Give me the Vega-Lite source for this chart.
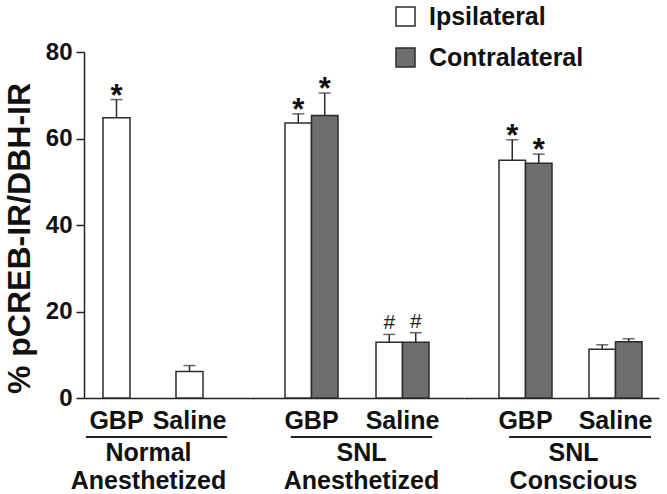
{
  "$schema": "https://vega.github.io/schema/vega-lite/v6.json",
  "padding": {"left": 3, "top": 4, "right": 4, "bottom": 4},
  "background": "white",
  "data": {
    "values": [
      {"group": "Normal Anesthetized", "treatment": "GBP", "side": "Ipsilateral", "value": 64.8, "upper": 69.0, "sig": "*"},
      {"group": "Normal Anesthetized", "treatment": "Saline", "side": "Ipsilateral", "value": 6.1, "upper": 7.5, "sig": ""},
      {"group": "SNL Anesthetized", "treatment": "GBP", "side": "Ipsilateral", "value": 63.6, "upper": 65.7, "sig": "*"},
      {"group": "SNL Anesthetized", "treatment": "GBP", "side": "Contralateral", "value": 65.3, "upper": 70.5, "sig": "*"},
      {"group": "SNL Anesthetized", "treatment": "Saline", "side": "Ipsilateral", "value": 12.9, "upper": 14.7, "sig": "#"},
      {"group": "SNL Anesthetized", "treatment": "Saline", "side": "Contralateral", "value": 12.9, "upper": 15.1, "sig": "#"},
      {"group": "SNL Conscious", "treatment": "GBP", "side": "Ipsilateral", "value": 55.0, "upper": 59.7, "sig": "*"},
      {"group": "SNL Conscious", "treatment": "GBP", "side": "Contralateral", "value": 54.3, "upper": 56.4, "sig": "*"},
      {"group": "SNL Conscious", "treatment": "Saline", "side": "Ipsilateral", "value": 11.3, "upper": 12.3, "sig": ""},
      {"group": "SNL Conscious", "treatment": "Saline", "side": "Contralateral", "value": 13.0, "upper": 13.7, "sig": ""}
    ]
  },
  "spacing": 0,
  "resolve": {"scale": {"x": "independent", "xOffset": "independent"}},
  "hconcat": [
    {
      "width": 166,
      "height": 346,
      "transform": [{"filter": "datum.group === 'Normal Anesthetized'"}],
      "layer": [
        {
          "mark": {"type": "bar", "width": 27, "stroke": "#2b2b2b", "strokeWidth": 1.5},
          "encoding": {
            "x": {"field": "treatment", "type": "nominal", "sort": ["GBP", "Saline"],
                  "scale": {"paddingInner": 0.1096, "paddingOuter": 0.1918, "align": 0},
                  "axis": {"title": ["Normal", "Anesthetized"], "titleX": 64}},
            "y": {"field": "value", "type": "quantitative", "scale": {"domain": [0, 80], "nice": false},
                  "axis": {"title": "% pCREB-IR/DBH-IR", "values": [0, 20, 40, 60, 80], "titleY": 186}},
            "color": {"field": "side", "type": "nominal",
                      "scale": {"domain": ["Ipsilateral", "Contralateral"], "range": ["#ffffff", "#6e6e6e"]},
                      "legend": {"orient": "none", "legendX": 309, "legendY": -48}}
          }
        },
        {
          "mark": {"type": "rule", "stroke": "#2b2b2b", "strokeWidth": 1.5},
          "encoding": {
            "x": {"field": "treatment", "type": "nominal", "sort": ["GBP", "Saline"]},
            "y": {"field": "value", "type": "quantitative"},
            "y2": {"field": "upper"}
          }
        },
        {
          "mark": {"type": "tick", "color": "#2b2b2b", "size": 12, "thickness": 1.5},
          "encoding": {
            "x": {"field": "treatment", "type": "nominal", "sort": ["GBP", "Saline"]},
            "y": {"field": "upper", "type": "quantitative"}
          }
        },
        {
          "transform": [{"filter": "datum.sig === '*'"}],
          "mark": {"type": "text", "fontSize": 31, "fontWeight": "bold", "baseline": "alphabetic", "dy": 6, "color": "#111"},
          "encoding": {
            "x": {"field": "treatment", "type": "nominal", "sort": ["GBP", "Saline"]},
            "y": {"field": "upper", "type": "quantitative"},
            "text": {"field": "sig"}
          }
        },
        {
          "transform": [{"aggregate": [{"op": "count", "as": "n"}]}],
          "mark": {"type": "rule", "stroke": "#222", "strokeWidth": 2},
          "encoding": {
            "x": {"datum": "GBP", "bandPosition": 0.03},
            "x2": {"datum": "Saline", "bandPosition": 1.08},
            "y": {"datum": -9}
          }
        }
      ]
    },
    {
      "width": 214,
      "height": 346,
      "transform": [{"filter": "datum.group === 'SNL Anesthetized'"}],
      "layer": [
        {
          "mark": {"type": "bar", "stroke": "#2b2b2b", "strokeWidth": 1.5},
          "encoding": {
            "x": {"field": "treatment", "type": "nominal", "sort": ["GBP", "Saline"],
                  "scale": {"paddingInner": 0.4176, "paddingOuter": 0.3846, "align": 0.5},
                  "axis": {"title": ["SNL", "Anesthetized"], "titleX": 111}},
            "xOffset": {"field": "side", "sort": ["Ipsilateral", "Contralateral"], "scale": {"paddingInner": 0, "paddingOuter": 0}},
            "y": {"field": "value", "type": "quantitative", "scale": {"domain": [0, 80], "nice": false}, "axis": null},
            "color": {"field": "side", "type": "nominal",
                      "scale": {"domain": ["Ipsilateral", "Contralateral"], "range": ["#ffffff", "#6e6e6e"]},
                      "legend": {"orient": "none", "legendX": 309, "legendY": -48}}
          }
        },
        {
          "mark": {"type": "rule", "stroke": "#2b2b2b", "strokeWidth": 1.5},
          "encoding": {
            "x": {"field": "treatment", "type": "nominal", "sort": ["GBP", "Saline"]},
            "xOffset": {"field": "side", "sort": ["Ipsilateral", "Contralateral"]},
            "y": {"field": "value", "type": "quantitative"},
            "y2": {"field": "upper"}
          }
        },
        {
          "mark": {"type": "tick", "color": "#2b2b2b", "size": 12, "thickness": 1.5},
          "encoding": {
            "x": {"field": "treatment", "type": "nominal", "sort": ["GBP", "Saline"]},
            "xOffset": {"field": "side", "sort": ["Ipsilateral", "Contralateral"]},
            "y": {"field": "upper", "type": "quantitative"}
          }
        },
        {
          "transform": [{"filter": "datum.sig === '*'"}],
          "mark": {"type": "text", "fontSize": 31, "fontWeight": "bold", "baseline": "alphabetic", "dy": 6, "color": "#111"},
          "encoding": {
            "x": {"field": "treatment", "type": "nominal", "sort": ["GBP", "Saline"]},
            "xOffset": {"field": "side", "sort": ["Ipsilateral", "Contralateral"]},
            "y": {"field": "upper", "type": "quantitative"},
            "text": {"field": "sig"}
          }
        },
        {
          "transform": [{"filter": "datum.sig === '#'"}],
          "mark": {"type": "text", "fontSize": 21, "fontWeight": "normal", "baseline": "alphabetic", "dy": -5, "color": "#222"},
          "encoding": {
            "x": {"field": "treatment", "type": "nominal", "sort": ["GBP", "Saline"]},
            "xOffset": {"field": "side", "sort": ["Ipsilateral", "Contralateral"]},
            "y": {"field": "upper", "type": "quantitative"},
            "text": {"field": "sig"}
          }
        },
        {
          "transform": [{"aggregate": [{"op": "count", "as": "n"}]}],
          "mark": {"type": "rule", "stroke": "#222", "strokeWidth": 2},
          "encoding": {
            "x": {"datum": "GBP", "bandPosition": 0.11},
            "x2": {"datum": "Saline", "bandPosition": 1.06},
            "y": {"datum": -9}
          }
        }
      ]
    },
    {
      "width": 195,
      "height": 346,
      "transform": [{"filter": "datum.group === 'SNL Conscious'"}],
      "layer": [
        {
          "mark": {"type": "bar", "stroke": "#2b2b2b", "strokeWidth": 1.5},
          "encoding": {
            "x": {"field": "treatment", "type": "nominal", "sort": ["GBP", "Saline"],
                  "scale": {"paddingInner": 0.411, "paddingOuter": 0.2889, "align": 0.673},
                  "axis": {"title": ["SNL", "Conscious"], "titleX": 109}},
            "xOffset": {"field": "side", "sort": ["Ipsilateral", "Contralateral"], "scale": {"paddingInner": 0, "paddingOuter": 0}},
            "y": {"field": "value", "type": "quantitative", "scale": {"domain": [0, 80], "nice": false}, "axis": null},
            "color": {"field": "side", "type": "nominal",
                      "scale": {"domain": ["Ipsilateral", "Contralateral"], "range": ["#ffffff", "#6e6e6e"]},
                      "legend": {"orient": "none", "legendX": 309, "legendY": -48}}
          }
        },
        {
          "mark": {"type": "rule", "stroke": "#2b2b2b", "strokeWidth": 1.5},
          "encoding": {
            "x": {"field": "treatment", "type": "nominal", "sort": ["GBP", "Saline"]},
            "xOffset": {"field": "side", "sort": ["Ipsilateral", "Contralateral"]},
            "y": {"field": "value", "type": "quantitative"},
            "y2": {"field": "upper"}
          }
        },
        {
          "mark": {"type": "tick", "color": "#2b2b2b", "size": 12, "thickness": 1.5},
          "encoding": {
            "x": {"field": "treatment", "type": "nominal", "sort": ["GBP", "Saline"]},
            "xOffset": {"field": "side", "sort": ["Ipsilateral", "Contralateral"]},
            "y": {"field": "upper", "type": "quantitative"}
          }
        },
        {
          "transform": [{"filter": "datum.sig === '*'"}],
          "mark": {"type": "text", "fontSize": 31, "fontWeight": "bold", "baseline": "alphabetic", "dy": 6, "color": "#111"},
          "encoding": {
            "x": {"field": "treatment", "type": "nominal", "sort": ["GBP", "Saline"]},
            "xOffset": {"field": "side", "sort": ["Ipsilateral", "Contralateral"]},
            "y": {"field": "upper", "type": "quantitative"},
            "text": {"field": "sig"}
          }
        },
        {
          "transform": [{"aggregate": [{"op": "count", "as": "n"}]}],
          "mark": {"type": "rule", "stroke": "#222", "strokeWidth": 2},
          "encoding": {
            "x": {"datum": "GBP", "bandPosition": 0.19},
            "x2": {"datum": "Saline", "bandPosition": 1.17},
            "y": {"datum": -9}
          }
        }
      ]
    }
  ],
  "config": {
    "font": "Liberation Sans",
    "view": {"stroke": null},
    "axisX": {
      "domainColor": "#222", "domainWidth": 1.5, "ticks": false, "labelAngle": 0,
      "labelFontSize": 25, "labelFontWeight": "bold", "labelColor": "#111", "labelPadding": 10,
      "titleFontSize": 25, "titleFontWeight": "bold", "titleColor": "#111", "titlePadding": 7, "titleLineHeight": 28
    },
    "axisY": {
      "domainColor": "#222", "domainWidth": 1.5, "tickColor": "#222", "tickWidth": 1.5, "tickSize": 8, "grid": false,
      "labelFontSize": 24, "labelFontWeight": "bold", "labelColor": "#111", "labelPadding": 4,
      "titleFontSize": 32, "titleFontWeight": "bold", "titleColor": "#111", "titlePadding": 9
    },
    "legend": {
      "title": null, "symbolType": "square", "symbolSize": 361, "symbolStrokeColor": "#2b2b2b", "symbolStrokeWidth": 1.5,
      "labelFontSize": 25, "labelFontWeight": "bold", "labelColor": "#111", "labelOffset": 11, "rowPadding": 15, "padding": 0
    }
  }
}
